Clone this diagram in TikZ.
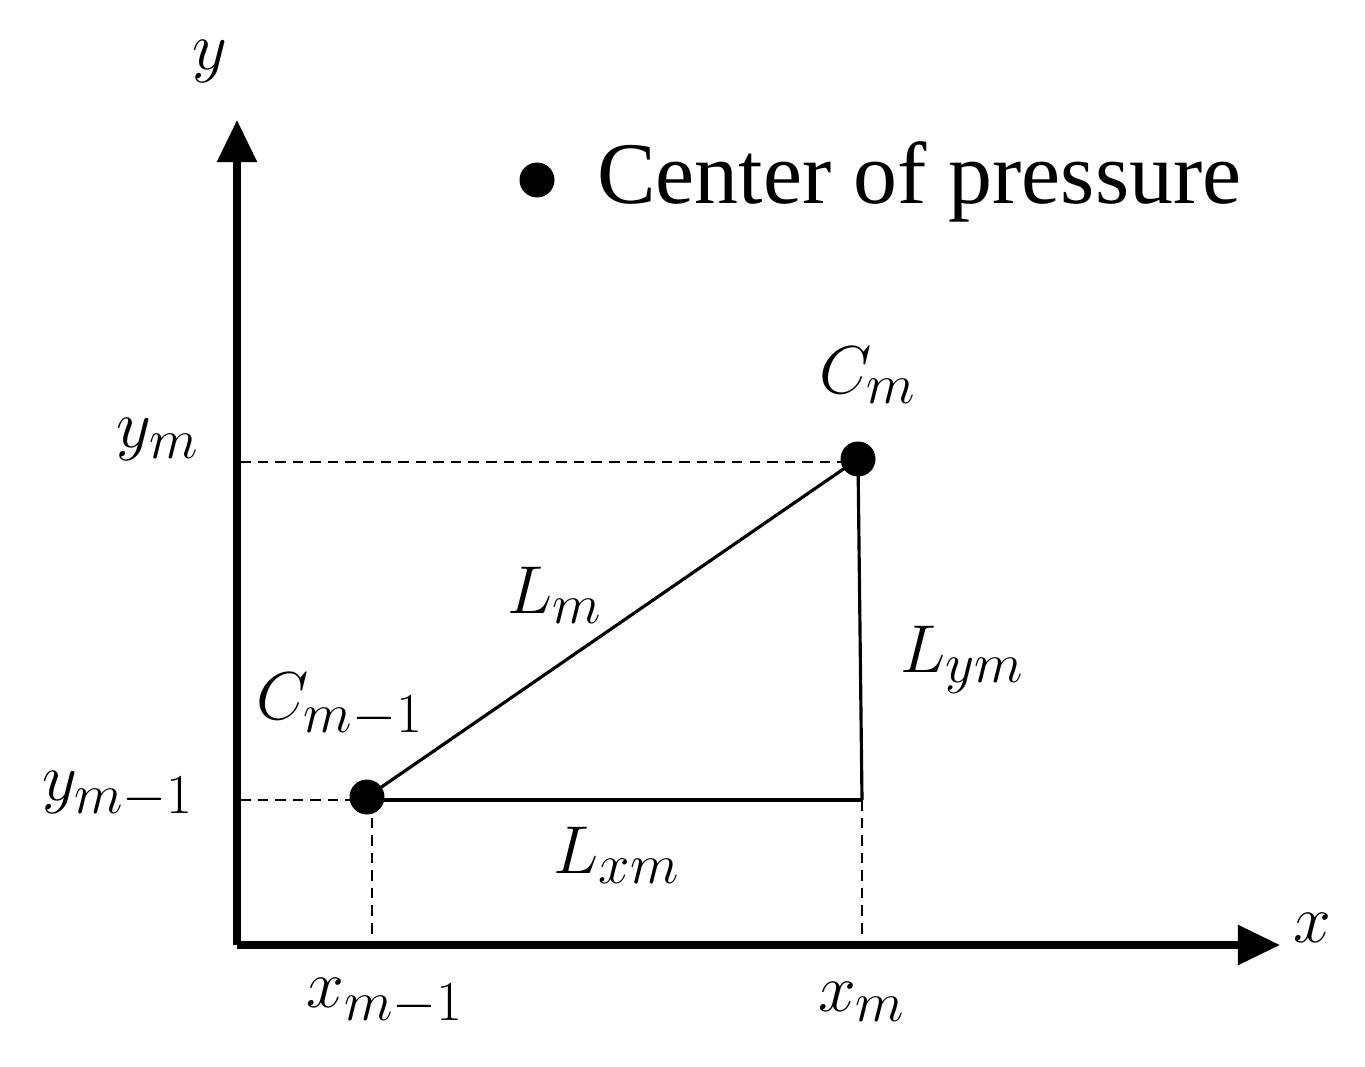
\documentclass[tikz,border=0pt]{standalone}
\usepackage{fontspec}
\setmainfont{Liberation Serif}
\usetikzlibrary{arrows.meta}
\begin{document}
\begin{tikzpicture}[x=0.02cm,y=-0.02cm,
  axis/.style={line width=4pt,-{Triangle[length=24pt,width=22pt]}},
  solid line/.style={line width=1.8pt},
  guide/.style={line width=1.3pt,dash pattern=on 6pt off 4pt},
  dot/.style={circle,fill=black,inner sep=0pt,minimum size=0.7cm},
  lab/.style={font=\fontsize{24.88}{30}\selectfont,inner sep=0pt,scale=1.55}]
\useasboundingbox (0,0) rectangle (1365,1067);
\coordinate (O) at (237,945);
\coordinate (Ytop) at (237,120);
\coordinate (Xend) at (1280,945);
\draw[axis] (O) -- (Ytop);
\draw[axis] (O) -- (Xend);
\node[dot] (C1) at (367,797) {};
\node[dot] (C2) at (858,459) {};
\coordinate (Cr) at (862,800);
\coordinate (Ym) at (240,462);
\coordinate (C2l) at (858,462);
\coordinate (Ym1) at (240,800);
\coordinate (C1l) at (367,800);
\coordinate (Xm) at (862,945);
\coordinate (Xm1) at (372,945);
\coordinate (X1t) at (372,800);
\draw[solid line] (C1.center) -- (C2.center);
\draw[solid line] (C1l) -- (Cr);
\draw[solid line] (C2.center) -- (Cr);
\draw[guide] (Ym) -- (C2l);
\draw[guide] (Ym1) -- (C1l);
\draw[guide] (Cr) -- (Xm);
\draw[guide] (X1t) -- (Xm1);
\node[lab] (ly) at (210,62) {$y$};
\node[lab] (lx) at (1312,928) {$x$};
\node[lab] (lym) at (158,440) {$y_m$};
\node[lab] (lym1) at (118,795) {$y_{m-1}$};
\node[lab] (lxm1) at (385,1002) {$x_{m-1}$};
\node[lab] (lxm) at (862,1002) {$x_m$};
\node[lab] (lcm) at (868,375) {$C_m$};
\node[lab] (lcm1) at (340,705) {$C_{m-1}$};
\node[lab] (llm) at (555,595) {$L_m$};
\node[lab] (llym) at (962,660) {$L_{ym}$};
\node[lab] (llxm) at (617,855) {$L_{xm}$};
\node[dot] (leg) at (537,180) {};
\node[anchor=west,inner sep=0pt,font=\fontsize{50}{60}\selectfont] (legt) at (597,182) {Center of pressure};
\end{tikzpicture}
\end{document}
